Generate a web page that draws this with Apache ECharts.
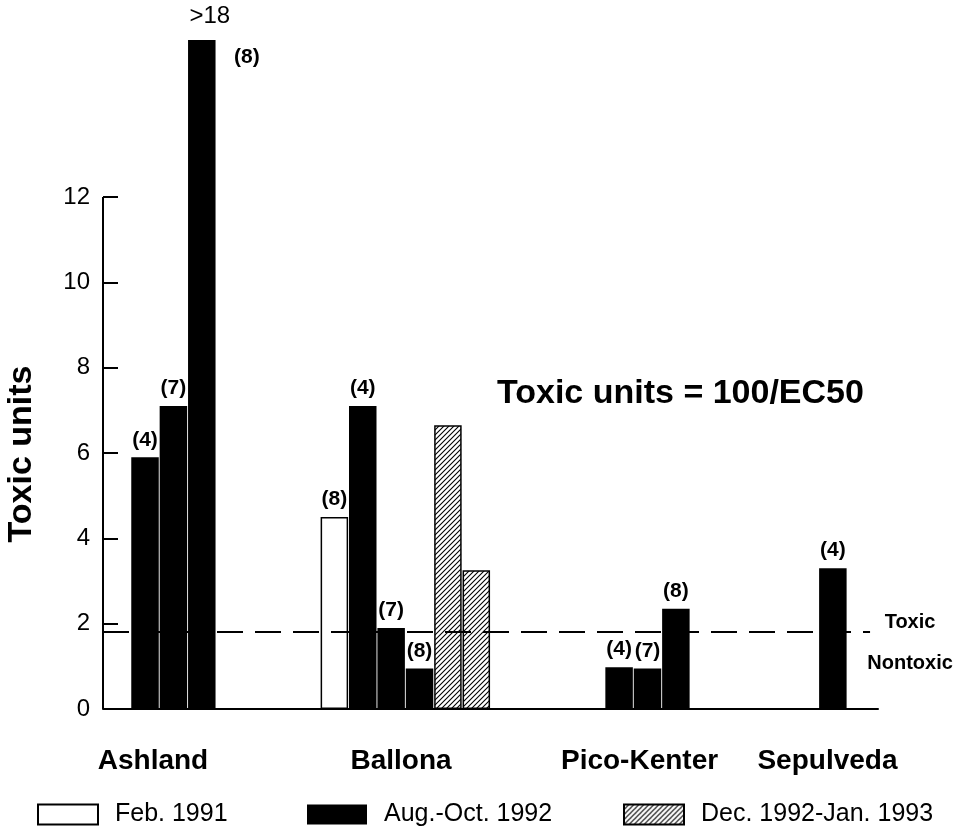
<!DOCTYPE html>
<html>
<head>
<meta charset="utf-8">
<script src="https://cdn.jsdelivr.net/npm/echarts@6/dist/echarts.min.js"></script>
<style>
  html, body { margin: 0; padding: 0; background: #fff; }
  #chart { width: 965px; height: 834px; }
</style>
</head>
<body>
<div id="chart"></div>
<script>
// Sampling sites along the x axis
const sites = ['Ashland', 'Ballona', 'Pico-Kenter', 'Sepulveda'];
// Sampling periods (legend entries)
const periods = ['Feb. 1991', 'Aug.-Oct. 1992', 'Dec. 1992-Jan. 1993'];

// One entry per bar, left to right
const barSite    = [0, 0, 0, 1, 1, 1, 1, 1, 1, 2, 2, 2, 3];
const barPeriod  = [1, 1, 1, 0, 1, 1, 1, 2, 2, 1, 1, 1, 1];
const barNote    = ['(4)', '(7)', '(8)', '(8)', '(4)', '(7)', '(8)', '', '', '(4)', '(7)', '(8)', '(4)'];
const toxicUnits = [5.9, 7.1, 18, 4.5, 7.1, 1.9, 0.95, 6.65, 3.25, 0.98, 0.95, 2.35, 3.3];

// Toxic / nontoxic boundary
const toxicThreshold = 1.8;
// Labelled ticks on the y axis
const yTicks = [0, 2, 4, 6, 8, 10, 12];

// ---- layout (in bar-pitch units along the x axis) ----
const xMax = 27.3;
const groupStart = [0.98, 7.65, 17.68, 25.21];
const siteLabelAt = [1.76, 10.5, 18.9, 25.52];
const thresholdEnd = 27.02;
const FONT = "'Liberation Sans', Arial, Helvetica, sans-serif";

// Diagonal hatching for the Dec.-Jan. samples
function hatch() {
  const s = 5;
  const c = document.createElement('canvas');
  c.width = s; c.height = s;
  const g = c.getContext('2d');
  g.fillStyle = '#fff';
  g.fillRect(0, 0, s, s);
  g.strokeStyle = '#000';
  g.lineWidth = 1.1;
  g.beginPath();
  g.moveTo(0, s); g.lineTo(s, 0);
  g.moveTo(-1, 1); g.lineTo(1, -1);
  g.moveTo(s - 1, s + 1); g.lineTo(s + 1, s - 1);
  g.stroke();
  return c;
}

const periodStyle = [
  { color: '#fff', borderColor: '#000', borderWidth: 1.5 },
  { color: '#000' },
  { color: { image: hatch(), repeat: 'repeat' }, borderColor: '#000', borderWidth: 1.5 }
];

// Bar x position: consecutive slots inside each site's group
const slotInGroup = [];
const seen = {};
barSite.forEach(function (s, i) {
  seen[s] = (seen[s] || 0);
  slotInGroup[i] = seen[s]++;
});
const barX = barSite.map(function (s, i) { return groupStart[s] + slotInGroup[i] + 0.5; });

const topTick = yTicks[yTicks.length - 1];
const offScale = [];

const barSeries = periods.map(function (name, p) {
  const data = [];
  toxicUnits.forEach(function (v, i) {
    if (barPeriod[i] !== p) return;
    const item = { value: [barX[i], v], note: barNote[i] };
    if (v > topTick) {
      // off-scale bar: note sits to the right of the bar top
      item.label = { position: [46, 17], align: 'left', verticalAlign: 'middle' };
      offScale.push({ coord: [barX[i], v], value: v });
    }
    data.push(item);
  });
  return {
    name: name,
    type: 'bar',
    barWidth: 27.5,
    barGap: '-100%',
    itemStyle: periodStyle[p],
    label: {
      show: true,
      position: 'top',
      distance: 7,
      formatter: function (d) { return d.data.note; },
      fontFamily: FONT,
      fontWeight: 'bold',
      fontSize: 21,
      color: '#000'
    },
    emphasis: { disabled: true },
    data: data
  };
});

// Values shown as lower bounds above off-scale bars
barSeries[1].markPoint = {
  symbol: 'rect',
  symbolSize: 0,
  itemStyle: { color: 'rgba(0,0,0,0)' },
  label: {
    show: true,
    position: 'top',
    distance: 12,
    offset: [8, 0],
    formatter: function (d) { return '>' + d.value; },
    fontFamily: FONT,
    fontSize: 24,
    color: '#000'
  },
  data: offScale
};

// Reference lines: y axis spine (0 to top tick) and the toxicity threshold
const refSeries = {
  name: 'ref',
  type: 'line',
  data: [],
  silent: true,
  markLine: {
    silent: true,
    symbol: 'none',
    animation: false,
    data: [
      [
        { coord: [0, 0], lineStyle: { type: 'solid', width: 2, color: '#000' }, label: { show: false } },
        { coord: [0, topTick] }
      ],
      [
        {
          coord: [0, toxicThreshold],
          lineStyle: { type: [26, 12], width: 2, color: '#000' },
          label: {
            show: true,
            position: 'end',
            distance: 40,
            align: 'center',
            verticalAlign: 'middle',
            padding: [22, 0, 0, 0],
            formatter: '{a|Toxic}\n{a|Nontoxic}',
            rich: {
              a: { fontFamily: FONT, fontWeight: 'bold', fontSize: 20, lineHeight: 41, color: '#000', align: 'center' }
            }
          }
        },
        { coord: [thresholdEnd, toxicThreshold] }
      ]
    ]
  }
};

function legendFor(name, left) {
  return {
    data: [name],
    left: left,
    top: 802,
    padding: 0,
    icon: 'rect',
    itemWidth: 60,
    itemHeight: 20,
    selectedMode: false,
    textStyle: { fontFamily: FONT, fontSize: 25, color: '#000', padding: [0, 0, 0, 12] }
  };
}

const option = {
  backgroundColor: '#fff',
  animation: false,
  title: {
    text: 'Toxic units = 100/EC50',
    left: 497,
    top: 377,
    padding: 0,
    textStyle: { fontFamily: FONT, fontWeight: 'bold', fontSize: 34, color: '#000' }
  },
  legend: [
    legendFor(periods[0], 37),
    legendFor(periods[1], 307),
    legendFor(periods[2], 623)
  ],
  grid: { left: 103, right: 87, top: 40, bottom: 125 },
  xAxis: {
    type: 'value',
    min: 0,
    max: xMax,
    axisLine: { show: true, lineStyle: { color: '#000', width: 2 } },
    axisTick: { show: false },
    splitLine: { show: false },
    axisLabel: {
      customValues: siteLabelAt,
      formatter: function (v) {
        let best = 0;
        siteLabelAt.forEach(function (p, i) {
          if (Math.abs(p - v) < Math.abs(siteLabelAt[best] - v)) best = i;
        });
        return sites[best];
      },
      margin: 38,
      fontFamily: FONT,
      fontWeight: 'bold',
      fontSize: 28,
      color: '#000'
    }
  },
  yAxis: {
    type: 'value',
    min: 0,
    max: 18,
    interval: 2,
    breaks: [{ start: 12.5, end: 14.82, gap: 0 }],
    breakArea: { show: false },
    axisLine: { show: false },
    axisTick: {
      show: true,
      inside: true,
      length: 15,
      customValues: yTicks,
      lineStyle: { color: '#000', width: 2 }
    },
    axisLabel: {
      customValues: yTicks,
      margin: 13,
      fontFamily: FONT,
      fontSize: 24,
      color: '#000'
    },
    splitLine: { show: false }
  },
  graphic: [
    {
      type: 'text',
      x: 22,
      y: 454,
      rotation: Math.PI / 2,
      style: {
        text: 'Toxic units',
        font: "bold 34px 'Liberation Sans', Arial, sans-serif",
        fill: '#000',
        align: 'center',
        verticalAlign: 'middle'
      }
    }
  ],
  series: barSeries.concat([refSeries])
};

const chart = echarts.init(document.getElementById('chart'), null, { renderer: 'canvas' });
chart.setOption(option);
</script>
</body>
</html>
